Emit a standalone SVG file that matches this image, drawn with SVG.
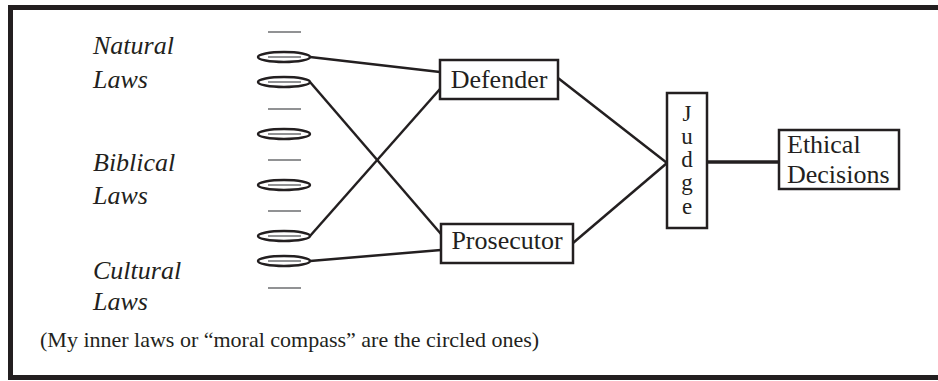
<svg xmlns="http://www.w3.org/2000/svg" width="938" height="381" viewBox="0 0 938 381">
<style>
.frame{fill:none;stroke:#231f20;stroke-width:5}
.box{fill:#fff;stroke:#231f20;stroke-width:2.5}
.t{font-family:"Liberation Serif","Times New Roman",serif;font-size:26px;fill:#231f20}
.it{font-style:italic}
.note{font-size:22px}
.jl{font-size:23px}
.dash{stroke:#6d6e71;stroke-width:1.6}
.ell{fill:none;stroke:#231f20;stroke-width:2.4}
.conn{fill:none;stroke:#231f20;stroke-width:2.5}
</style>
<rect width="938" height="381" fill="#fff"/>
<rect class="frame" x="10.5" y="7.5" width="940" height="370"/>
<g id="labels">
<text class="t it" x="93" y="54">Natural</text>
<text class="t it" x="93" y="88">Laws</text>
<text class="t it" x="93" y="171">Biblical</text>
<text class="t it" x="93" y="204">Laws</text>
<text class="t it" x="93" y="279">Cultural</text>
<text class="t it" x="93" y="310">Laws</text>
</g>
<g id="laws">
<line class="dash" x1="268" y1="32" x2="301" y2="32"/>
<line class="dash" x1="268" y1="57" x2="301" y2="57"/><ellipse class="ell" cx="284" cy="57" rx="26" ry="5"/>
<line class="dash" x1="268" y1="82" x2="301" y2="82"/><ellipse class="ell" cx="284" cy="82" rx="26" ry="5"/>
<line class="dash" x1="268" y1="109" x2="301" y2="109"/>
<line class="dash" x1="268" y1="134" x2="301" y2="134"/><ellipse class="ell" cx="284" cy="134" rx="26" ry="5"/>
<line class="dash" x1="268" y1="160" x2="301" y2="160"/>
<line class="dash" x1="268" y1="185" x2="301" y2="185"/><ellipse class="ell" cx="284" cy="185" rx="26" ry="5"/>
<line class="dash" x1="268" y1="211" x2="301" y2="211"/>
<line class="dash" x1="268" y1="236" x2="301" y2="236"/><ellipse class="ell" cx="284" cy="236" rx="26" ry="5"/>
<line class="dash" x1="268" y1="261" x2="301" y2="261"/><ellipse class="ell" cx="284" cy="261" rx="26" ry="5"/>
<line class="dash" x1="268" y1="288" x2="301" y2="288"/>
</g>
<g id="connectors">
<line class="conn" x1="310" y1="57" x2="440" y2="72"/>
<line class="conn" x1="310" y1="82" x2="441" y2="234"/>
<line class="conn" x1="310" y1="236" x2="440" y2="89"/>
<line class="conn" x1="310" y1="261" x2="441" y2="250"/>
<line class="conn" x1="558" y1="78" x2="667" y2="163"/>
<line class="conn" x1="573" y1="243" x2="667" y2="163"/>
<line class="conn" x1="707" y1="162" x2="779" y2="162" style="stroke-width:3.5"/>
</g>
<g id="defender">
<rect class="box" x="440" y="60" width="118" height="39"/>
<text class="t" x="499" y="88" text-anchor="middle">Defender</text>
</g>
<g id="prosecutor">
<rect class="box" x="441" y="224" width="132" height="39"/>
<text class="t" x="507" y="249" text-anchor="middle">Prosecutor</text>
</g>
<g id="judge">
<rect class="box" x="667" y="93" width="40" height="135"/>
<text class="t jl" x="687" y="121" text-anchor="middle">J</text>
<text class="t jl" x="687" y="144" text-anchor="middle">u</text>
<text class="t jl" x="687" y="167" text-anchor="middle">d</text>
<text class="t jl" x="687" y="190" text-anchor="middle">g</text>
<text class="t jl" x="687" y="214" text-anchor="middle">e</text>
</g>
<g id="ethical">
<rect class="box" x="779" y="130" width="120" height="59"/>
<text class="t" x="787" y="153">Ethical</text>
<text class="t" x="787" y="183">Decisions</text>
</g>
<text class="t note" x="40" y="347">(My inner laws or “moral compass” are the circled ones)</text>
</svg>
